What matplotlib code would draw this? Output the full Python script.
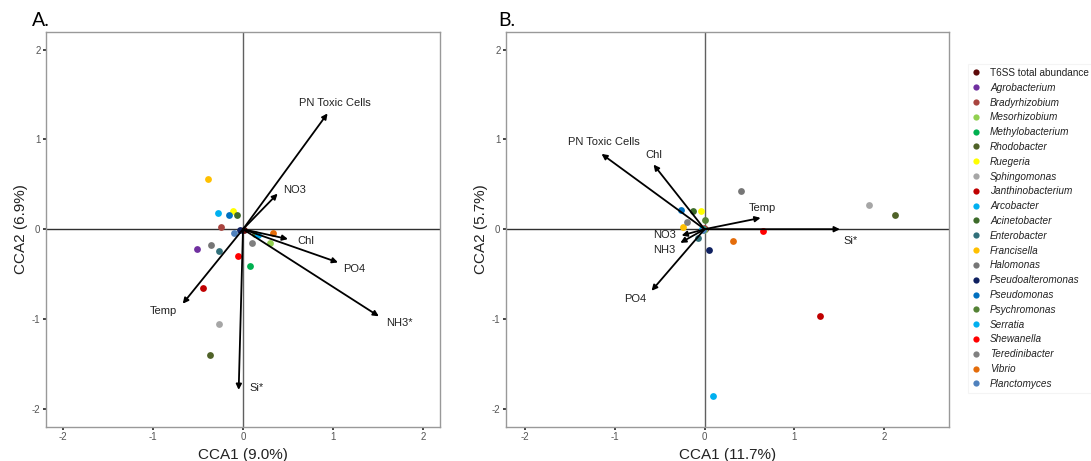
import numpy as np
import matplotlib.pyplot as plt
from matplotlib.lines import Line2D

plt.rcParams['font.family'] = ['Liberation Sans', 'DejaVu Sans']
plt.rcParams['axes.unicode_minus'] = False

# legend order / colours
taxa = ["T6SS total abundance", "Agrobacterium", "Bradyrhizobium", "Mesorhizobium",
        "Methylobacterium", "Rhodobacter", "Ruegeria", "Sphingomonas",
        "Janthinobacterium", "Arcobacter", "Acinetobacter", "Enterobacter",
        "Francisella", "Halomonas", "Pseudoalteromonas", "Pseudomonas",
        "Psychromonas", "Serratia", "Shewanella", "Teredinibacter", "Vibrio",
        "Planctomyces"]
colors = ["#5E0A0A", "#7030A0", "#A9443F", "#92D050", "#00B050", "#4F6228",
          "#FFFF00", "#A6A6A6", "#C00000", "#00B0F0", "#3D6B2A", "#31707A",
          "#FFC000", "#767676", "#0F2060", "#0070C0", "#548235", "#00B0F0",
          "#FF0000", "#808080", "#E46C0A", "#4F81BD"]

# panel A site scores (same order as taxa)
a_x = [0.007, -0.507, -0.24, 0.304, 0.074, -0.37, -0.111, -0.27, -0.441, -0.278,
       -0.07, -0.267, -0.385, -0.352, -0.037, -0.159, 0.137, 0.163, -0.052,
       0.096, 0.333, -0.104]
a_y = [-0.004, -0.218, 0.03, -0.156, -0.411, -1.404, 0.204, -1.059, -0.656, 0.181,
       0.156, -0.248, 0.563, -0.178, -0.004, 0.156, -0.056, -0.067, -0.293,
       -0.159, -0.044, -0.04]

# panel B site scores
b_x = [0.0, -0.005, -0.01, -0.01, -0.02, 2.119, -0.041, 1.833, 1.284, -0.03,
       -0.13, -0.078, -0.237, 0.40, 0.052, -0.267, 0.0, 0.093, 0.649, -0.193,
       0.315, -0.02]
b_y = [0.0, 0.0, 0.01, -0.01, 0.0, 0.156, 0.2, 0.271, -0.968, 0.0,
       0.204, -0.093, 0.026, 0.423, -0.237, 0.215, 0.1, -1.855, -0.019, 0.078,
       -0.13, -0.01]

# environmental vectors
a_vars = ["PN Toxic Cells", "NO3", "Chl", "PO4", "NH3*", "Temp", "Si*"]
a_vx = [0.94, 0.385, 0.50, 1.056, 1.51, -0.67, -0.048]
a_vy = [1.29, 0.396, -0.11, -0.37, -0.97, -0.83, -1.79]
a_lx = [1.02, 0.574, 0.70, 1.24, 1.74, -0.89, 0.156]
a_ly = [1.41, 0.433, -0.13, -0.44, -1.04, -0.91, -1.77]

b_vars = ["PN Toxic Cells", "Chl", "Temp", "Si*", "NO3", "NH3", "PO4"]
b_vx = [-1.147, -0.568, 0.623, 1.506, -0.256, -0.27, -0.59]
b_vy = [0.839, 0.72, 0.126, 0.0, -0.07, -0.152, -0.686]
b_lx = [-1.124, -0.568, 0.638, 1.629, -0.449, -0.449, -0.772]
b_ly = [0.972, 0.824, 0.234, -0.13, -0.067, -0.234, -0.772]

fig = plt.figure(figsize=(10.91, 4.61), dpi=100)
axA = fig.add_axes([46/1091, 1-426.7/461, 394/1091, 395/461])
axB = fig.add_axes([506/1091, 1-426.7/461, 443/1091, 395/461])

titlefont = ["Lato", "DejaVu Sans"]


def draw(ax, xs, ys, names, vx, vy, lx, ly, xlim, xlabel, ylabel):
    ax.axvline(0, color="#606060", lw=1.0, zorder=1)
    ax.axhline(0, color="#303030", lw=1.0, zorder=1)
    for i in range(len(xs)):
        ax.scatter(xs[i], ys[i], s=24, color=colors[i], zorder=3, linewidths=0)
    for i in range(len(names)):
        ax.annotate("", xy=(vx[i], vy[i]), xytext=(0, 0),
                    arrowprops=dict(arrowstyle="-|>", color="black", lw=1.3,
                                    mutation_scale=8, shrinkA=0, shrinkB=0),
                    zorder=4)
        ax.text(lx[i], ly[i], names[i], ha="center", va="center", fontsize=8,
                color="#222222", zorder=5)
    ax.set_xlim(xlim)
    ax.set_ylim(-2.2, 2.2)
    ax.set_xticks([-2, -1, 0, 1, 2])
    ax.set_yticks([-2, -1, 0, 1, 2])
    ax.tick_params(length=2, width=1.2, color="#222222", labelsize=7,
                   labelcolor="#555555", pad=2)
    for sp in ax.spines.values():
        sp.set_color("#999999")
        sp.set_linewidth(1.0)
    ax.set_xlabel(xlabel, fontsize=11, color="#222222", labelpad=4)
    ax.set_ylabel(ylabel, fontsize=11, color="#222222", labelpad=3)


draw(axA, a_x, a_y, a_vars, a_vx, a_vy, a_lx, a_ly, (-2.19, 2.19),
     "CCA1 (9.0%)", "CCA2 (6.9%)")
draw(axB, b_x, b_y, b_vars, b_vx, b_vy, b_lx, b_ly, (-2.21, 2.72),
     "CCA1 (11.7%)", "CCA2 (5.7%)")

fig.text(32/1091, 1-20/461, "A.", fontsize=14, family=titlefont, va="center")
fig.text(498/1091, 1-20/461, "B.", fontsize=14, family=titlefont, va="center")

handles = [Line2D([], [], marker="o", ls="", markersize=4.5, color=c,
                  markeredgewidth=0) for c in colors]
leg = fig.legend(handles, taxa, loc="upper left",
                 bbox_to_anchor=(968/1091, 1-64/461), frameon=True,
                 prop=dict(size=7.2), labelspacing=0.48,
                 handlelength=0.8, handletextpad=1.0, borderpad=0.4,
                 borderaxespad=0, fancybox=False)
leg.get_frame().set_edgecolor("#f2f2f2")
leg.get_frame().set_linewidth(0.8)
for t in leg.get_texts()[1:]:
    t.set_fontstyle("italic")
for t in leg.get_texts():
    t.set_color("#222222")

fig.savefig("out.png", dpi=100)
